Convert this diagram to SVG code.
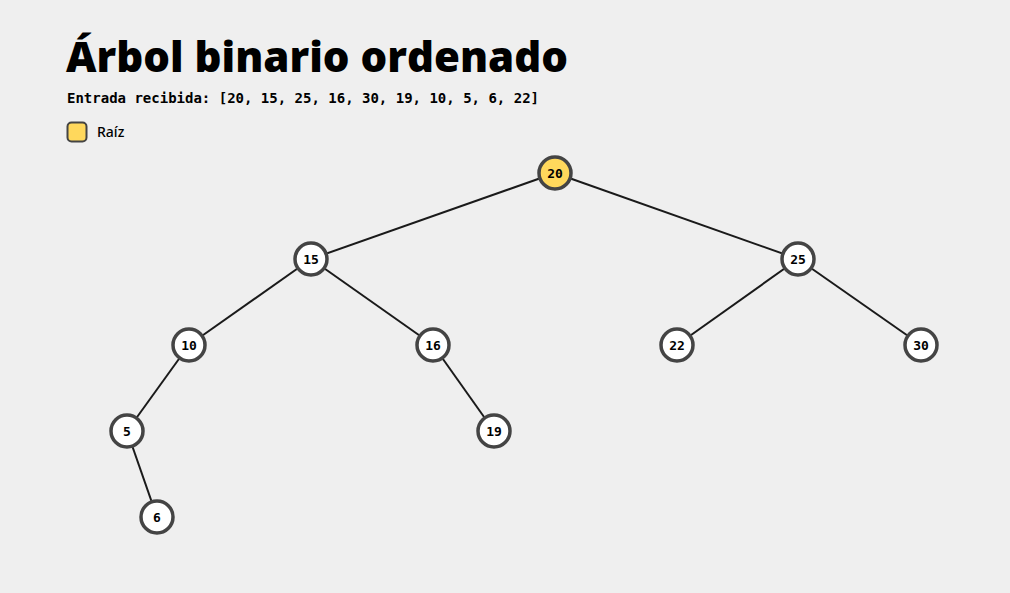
<svg xmlns="http://www.w3.org/2000/svg" width="1010" height="593" viewBox="0 0 1010 593">
<style>
.bg{fill:#efefef}
.title{font-family:"Open Sans","Noto Sans",sans-serif;font-weight:800;font-size:42px;fill:#000}
.sub{font-family:"DejaVu Sans Mono",monospace;font-weight:bold;font-size:14px;fill:#000}
.leg{font-family:"Noto Sans","Open Sans",sans-serif;font-weight:500;font-size:14px;fill:#000}
.edge{stroke:#1a1a1a;stroke-width:2;fill:none}
.node circle{fill:#fff;stroke:#444;stroke-width:3.5}
.node.root circle{fill:#ffd85c}
.node text{font-family:"DejaVu Sans Mono",monospace;font-weight:bold;font-size:13px;fill:#000;text-anchor:middle;dominant-baseline:central}
</style>
<rect class="bg" x="0" y="0" width="1010" height="593"/>
<text class="title" x="66" y="72" textLength="502" lengthAdjust="spacingAndGlyphs">Árbol binario ordenado</text>
<text class="sub" x="67" y="103">Entrada recibida: [20, 15, 25, 16, 30, 19, 10, 5, 6, 22]</text>
<g id="legend">
<rect x="67.5" y="122.5" width="19" height="19" rx="4" fill="#ffd85c" stroke="#444" stroke-width="2"/>
<text class="leg" x="97" y="137">Raíz</text>
</g>
<g id="connectors">
<line class="edge" x1="555" y1="173" x2="311" y2="259"/>
<line class="edge" x1="555" y1="173" x2="798" y2="259"/>
<line class="edge" x1="311" y1="259" x2="189" y2="345"/>
<line class="edge" x1="311" y1="259" x2="433" y2="345"/>
<line class="edge" x1="798" y1="259" x2="677" y2="345"/>
<line class="edge" x1="798" y1="259" x2="921" y2="345"/>
<line class="edge" x1="189" y1="345" x2="127" y2="431"/>
<line class="edge" x1="433" y1="345" x2="494" y2="431"/>
<line class="edge" x1="127" y1="431" x2="157" y2="517"/>
</g>
<g id="n20" class="node root"><circle cx="555" cy="173" r="16"/><text x="555" y="173">20</text></g>
<g id="n15" class="node"><circle cx="311" cy="259" r="16"/><text x="311" y="259">15</text></g>
<g id="n25" class="node"><circle cx="798" cy="259" r="16"/><text x="798" y="259">25</text></g>
<g id="n10" class="node"><circle cx="189" cy="345" r="16"/><text x="189" y="345">10</text></g>
<g id="n16" class="node"><circle cx="433" cy="345" r="16"/><text x="433" y="345">16</text></g>
<g id="n22" class="node"><circle cx="677" cy="345" r="16"/><text x="677" y="345">22</text></g>
<g id="n30" class="node"><circle cx="921" cy="345" r="16"/><text x="921" y="345">30</text></g>
<g id="n5" class="node"><circle cx="127" cy="431" r="16"/><text x="127" y="431">5</text></g>
<g id="n19" class="node"><circle cx="494" cy="431" r="16"/><text x="494" y="431">19</text></g>
<g id="n6" class="node"><circle cx="157" cy="517" r="16"/><text x="157" y="517">6</text></g>
</svg>
